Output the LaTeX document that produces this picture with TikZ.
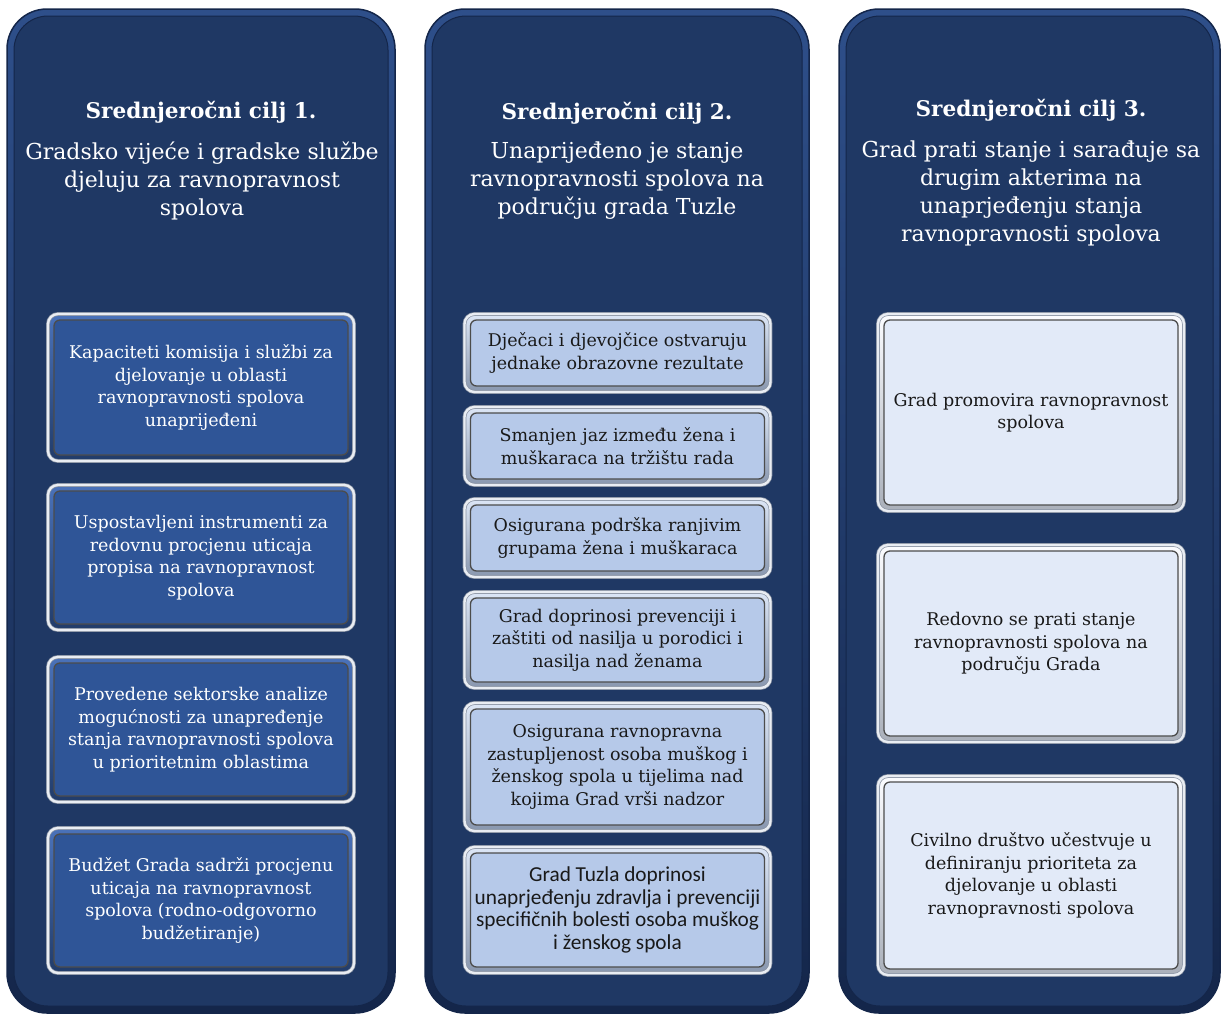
\documentclass[tikz,border=0pt]{standalone}
\usepackage{fontspec}
\setmainfont{DejaVu Serif}
\newfontfamily\carlito{Carlito}
\definecolor{navy}{HTML}{1F3864}
\definecolor{navyedge}{HTML}{14264A}
\definecolor{navyband}{HTML}{2E4F8A}
\definecolor{ring}{HTML}{E9EDF3}
\definecolor{ringedge}{HTML}{8A93A3}
\definecolor{bluefill}{HTML}{2F5597}
\definecolor{blueband}{HTML}{4A72BA}
\definecolor{lightfill}{HTML}{B6C9E9}
\definecolor{lightband}{HTML}{DCE6F6}
\definecolor{palefill}{HTML}{E2EAF8}
\definecolor{paleband}{HTML}{FBFCFF}
\begin{document}
\begin{tikzpicture}[x=1pt,y=-1pt,
  panel/.style={rounded corners=40pt, draw=navyedge, line width=1.5pt,
    top color=navyband, bottom color=navyedge, minimum height=1004pt,
    path picture={\draw[rounded corners=34pt, draw=navyedge, line width=1pt, fill=navy]
      ([shift={(7pt,-7pt)}]path picture bounding box.north west) rectangle
      ([shift={(-7pt,7pt)}]path picture bounding box.south east);}},
  bev/.style={path picture={\draw[rounded corners=6pt, draw=black!70, line width=1.3pt, fill=#1]
      ([shift={(6pt,-6pt)}]path picture bounding box.north west) rectangle
      ([shift={(-6pt,6pt)}]path picture bounding box.south east);}},
  box/.style={rounded corners=10pt, align=center, minimum width=306pt,
    draw=ringedge, double=ring, line width=0.7pt, double distance=2.4pt},
  boxa/.style={box, top color=blueband, bottom color=bluefill!70!black, bev=bluefill,
    text=white, font=\fontsize{17.5}{22.5}\selectfont},
  boxb/.style={box, top color=lightband, bottom color=lightfill!75!black, bev=lightfill,
    text=black!90, font=\fontsize{17.5}{22.5}\selectfont},
  boxc/.style={box, top color=paleband, bottom color=palefill!75!black, bev=palefill,
    text=black!90, font=\fontsize{17.5}{22.5}\selectfont},
  ttl/.style={text=white, font=\bfseries\fontsize{21.6}{28}\selectfont},
  goal/.style={text=white, align=center, font=\fontsize{22}{28}\selectfont}]
  \tikzstyle{every node}+=[inner sep=0pt]
  \useasboundingbox (0,0) rectangle (1223,1017);

  \node[panel, minimum width=388pt] (p1) at (201,511) {};
  \node[panel, minimum width=384pt] (p2) at (617,511) {};
  \node[panel, minimum width=381pt] (p3) at (1029.5,511) {};

  \node[ttl] (t1) at (201,112) {Srednjeročni cilj 1.};
  \node[goal] (g1) at (202,181) {Gradsko vijeće i gradske službe\\djeluju za ravnopravnost\\spolova};
  \node[ttl] (t2) at (617,113) {Srednjeročni cilj 2.};
  \node[goal] (g2) at (617,181) {Unaprijeđeno je stanje\\ravnopravnosti spolova na\\području grada Tuzle};
  \node[ttl] (t3) at (1031,110) {Srednjeročni cilj 3.};
  \node[goal] (g3) at (1031,193) {Grad prati stanje i sarađuje sa\\drugim akterima na\\unaprjeđenju stanja\\ravnopravnosti spolova};

  \node[boxa, minimum height=147pt] (b11) at (201,387.5) {Kapaciteti komisija i službi za\\djelovanje u oblasti\\ravnopravnosti spolova\\unaprijeđeni};
  \node[boxa, minimum height=145pt] (b12) at (201,557.5) {Uspostavljeni instrumenti za\\redovnu procjenu uticaja\\propisa na ravnopravnost\\spolova};
  \node[boxa, minimum height=145pt] (b13) at (201,729.5) {Provedene sektorske analize\\mogućnosti za unapređenje\\stanja ravnopravnosti spolova\\u prioritetnim oblastima};
  \node[boxa, minimum height=145pt] (b14) at (201,900.5) {Budžet Grada sadrži procjenu\\uticaja na ravnopravnost\\spolova (rodno-odgovorno\\budžetiranje)};

  \node[boxb, minimum height=78pt] (b21) at (617.5,353) {Dječaci i djevojčice ostvaruju\\jednake obrazovne rezultate};
  \node[boxb, minimum height=78pt] (b22) at (617.5,446) {Smanjen jaz između žena i\\muškaraca na tržištu rada};
  \node[boxb, minimum height=78pt] (b23) at (617.5,538) {Osigurana podrška ranjivim\\grupama žena i muškaraca};
  \node[boxb, minimum height=96pt] (b24) at (617.5,640) {Grad doprinosi prevenciji i\\zaštiti od nasilja u porodici i\\nasilja nad ženama};
  \node[boxb, minimum height=128pt] (b25) at (617.5,767) {Osigurana ravnopravna\\zastupljenost osoba muškog i\\ženskog spola u tijelima nad\\kojima Grad vrši nadzor};
  \node[boxb, minimum height=126pt, font=\carlito\fontsize{21.3}{22.5}\selectfont] (b26) at (617.5,910) {Grad Tuzla doprinosi\\unaprjeđenju zdravlja i prevenciji\\specifičnih bolesti osoba muškog\\i ženskog spola};

  \node[boxc, minimum height=197pt] (b31) at (1031,412.5) {Grad promovira ravnopravnost\\spolova};
  \node[boxc, minimum height=197pt] (b32) at (1031,643.5) {Redovno se prati stanje\\ravnopravnosti spolova na\\području Grada};
  \node[boxc, minimum height=199pt] (b33) at (1031,875.5) {Civilno društvo učestvuje u\\definiranju prioriteta za\\djelovanje u oblasti\\ravnopravnosti spolova};
\end{tikzpicture}
\end{document}
